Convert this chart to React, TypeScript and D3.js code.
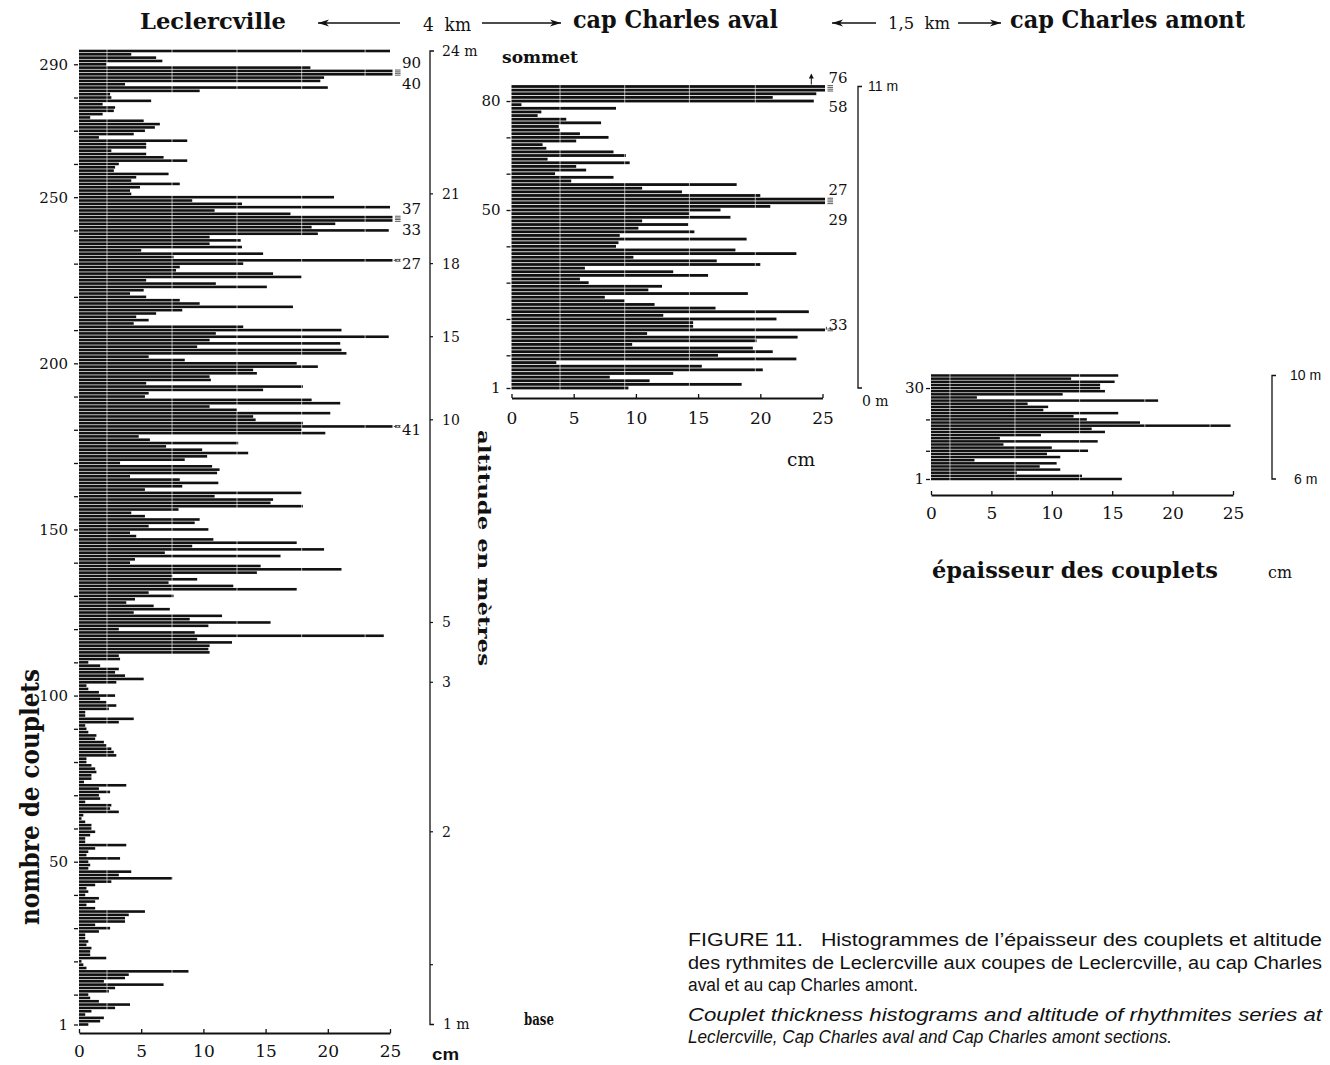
import React, { useEffect, useRef } from 'react';
import * as d3 from 'd3';

// couplet thickness (cm), listed from the top of each section down to couplet 1.
// values above 25 are the off-scale bars, kept at the thickness written beside them.
const leclercville = [
  25, 4.2, 6.2, 6.7, 2.2, 18.6, 90, 40, 19.7, 19.4, 3.7, 20, 9.7, 2.5, 2.6, 5.8, 1.9, 2.9, 2.8, 1.9,
  0.9, 5.2, 6.5, 6.1, 5.3, 4.4, 1.6, 8.7, 5.4, 5.4, 2.6, 5.4, 6.8, 8.7, 3.2, 2.9, 2.8, 7.2, 4.6, 4.2,
  8.1, 4.9, 4.1, 4.2, 20.5,
  9.1, 13.1, 25, 10.9, 17, 37, 33, 20.6, 18.7, 24.9, 19.2, 10.5, 13, 10.5, 13.1, 5, 14.8, 7.6, 27, 13.2,
  8.1, 7.8, 15.6, 17.9, 5.4, 11, 15.1, 5.2, 4.1, 5.4, 8.1, 9.7, 17.2, 8.3, 6.2, 4.6, 5.6, 4.4, 13.2, 21.1,
  11, 24.9, 10.5, 21, 9.5, 21.1, 21.5, 5.6, 8.5, 17.5, 19.2, 14, 14.3, 10.5, 10.6, 5.4, 18, 14.8, 5.6, 5.3,
  18.7, 21, 10.5, 12.7, 20.2, 14, 14.2, 18, 41,
  17.9, 19.8, 4.8, 5.7, 12.8, 7, 9.9, 13.6, 10.3, 8.5, 3.3, 10.7, 11.3, 11.1, 4.1, 8.1, 11.2, 8.3, 5.3, 17.9,
  10.9, 15.6, 15.4, 18, 8, 4.2, 5.3, 9.7, 9.3, 5.6, 10.4, 4.1, 4.6, 10.8, 17.5, 9.1, 19.7, 6.9, 16.2, 4.5,
  4.1, 14.6, 21.1, 14.3, 7.5, 9.5, 7.2, 12.4, 17.5, 5.6, 7.6, 4.5, 3.8, 6, 7.3, 4.4, 11.5, 8.9, 15.4, 10.4,
  3.2, 9.3, 24.5, 9.5, 12.3, 10.5, 10.4, 10.5, 3.2,
  3.3, 0.75, 1.7, 3.2, 2.9, 3.7, 5.2, 3, 0.6, 0.75, 1.6, 2.9, 1.7, 2.2, 3, 2.4, 0.5, 0.5, 4.4, 3.2,
  0.5, 0.6, 0.75, 1.4, 1.3, 2, 2.2, 2.6, 2.8, 3, 0.6, 0.6, 1, 1.3, 1.4, 1, 1, 0.4, 3.8, 1.6,
  2.5, 1.6, 1.7, 0.5, 2.6, 2.5, 3.2, 0.35, 0.2, 0.5, 1, 1, 1.3, 0.9, 0.5, 0.5, 3.8, 1.3, 0.75, 0.6,
  3.3, 0.75, 0.9,
  0.75, 4.2, 3.2, 7.5, 2.6, 1.3, 0.6, 0.75, 0.5, 1.6, 1.3, 0.6, 1.3, 5.3, 4, 3.7, 3.7, 1.3, 2.5, 1.6,
  0.5, 0.5, 0.75, 0.6, 1, 0.9, 0.9, 2.2, 0.2, 0.35, 0.6, 8.8, 4, 3.7, 2, 6.8, 2.9, 2.4, 0.75, 0.9,
  1.6, 4.1, 2.9, 1, 0.5, 2, 1.7, 0.75,
];

const capCharlesAval = [
  76, 58, 24.5, 21, 24.3, 0.8, 8.4, 2.4, 2.1, 4.4, 7.2, 3.8, 3.9, 5.5, 7.8, 5.2, 2.5, 2.8, 8.2, 9.2,
  2.9, 9.5, 5.2, 6, 3.5, 8.2, 4.8, 18.1, 10.5, 13.7, 20, 27, 29, 20.8, 16.8, 14.3, 17.6, 10.5, 14.2, 10.2,
  14.7, 8.7, 18.9, 8.6, 8.4, 18,
  22.9, 9.8, 16.5, 20, 5.9, 13, 15.8, 5.5, 6.2, 12.1, 11, 19, 7.5, 9.1, 11.5, 16.4, 23.9, 12.2, 21.3, 14.6,
  14.6, 33, 10.9, 23, 19.7, 9.7, 19.4, 21, 16.6, 22.9, 3.6, 15.3, 20.2, 13, 7.9, 11.1, 18.5, 9.4,
];

const capCharlesAmont = [
  15.5, 11.6, 15.2, 14, 14, 14.4, 10.9, 3.8, 18.8, 8, 9.7, 9.3, 15.5, 11.8, 12.9, 17.3, 24.8, 13.3, 14.4, 9.1,
  5.7, 13.8, 6, 10, 13, 9.6, 10.7, 3.6, 10.4, 9, 10.7, 7.1, 12.5, 15.8,
];

const thicknessTicks = [0, 5, 10, 15, 20, 25];
const leclercvilleLabels = [1, 50, 100, 150, 200, 250, 290];
const avalLabels = [1, 50, 80];
const amontLabels = [1, 30];

// altitude marks, given as the couplet they stand beside
const leclercvilleAltitude = [
  { label: '24 m', couplet: 294 },
  { label: '21', couplet: 251 },
  { label: '18', couplet: 230 },
  { label: '15', couplet: 208 },
  { label: '10', couplet: 183 },
  { label: '5', couplet: 122 },
  { label: '3', couplet: 104 },
  { label: '2', couplet: 59 },
  { label: '', couplet: 19 },
  { label: '1 m', couplet: 1 },
];
const avalAltitude = [
  { label: '11 m', couplet: 84 },
  { label: '0 m', couplet: 1 },
];
const amontAltitude = [
  { label: '10 m', couplet: 34 },
  { label: '6 m', couplet: 1 },
];

const captionFr = [
  'FIGURE 11.   Histogrammes de l\u2019épaisseur des couplets et altitude',
  'des rythmites de Leclercville aux coupes de Leclercville, au cap Charles',
  'aval et au cap Charles amont.',
];
const captionEn = [
  'Couplet thickness histograms and altitude of rhythmites series at',
  'Leclercville, Cap Charles aval and Cap Charles amont sections.',
];

const ink = '#111';
const serif = '"DejaVu Serif", "Liberation Serif", serif';
const sans = '"Liberation Sans", Arial, sans-serif';

const App = () => {
  const ref = useRef<SVGSVGElement>(null);

  useEffect(() => {
    document.body.style.margin = '0';
    const svg = d3.select(ref.current);
    svg.selectAll('*').remove();
    svg.append('rect').attr('width', 1330).attr('height', 1065).attr('fill', '#fff');

    const drawSection = (s: any) => {
      const n = s.values.length;
      const x = d3.scaleLinear().domain([0, 25]).range(s.xRange);
      const y = d3.scaleLinear().domain([1, n]).range(s.yRange);
      const rows = s.values.map((v: number, i: number) => ({ couplet: n - i, v, i }));
      const g = svg.append('g');

      g.append('g').selectAll('rect').data(rows).join('rect')
        .attr('x', x(0))
        .attr('y', (d: any) => y(d.couplet) - s.barH / 2)
        .attr('width', (d: any) => x(Math.min(d.v, 25.2)) - x(0))
        .attr('height', s.barH)
        .attr('fill', ink);

      // the pasted strips leave thin white seams through the bars
      g.append('g').selectAll('line').data(s.seams).join('line')
        .attr('x1', (d: any) => x(d)).attr('x2', (d: any) => x(d))
        .attr('y1', s.yRange[1] - 2).attr('y2', s.yRange[0] + 2)
        .attr('stroke', '#fff').attr('stroke-width', 0.9).attr('opacity', 0.7);

      // off-scale bars: break mark and written value
      rows.filter((d: any) => d.v > 25).forEach((d: any) => {
        const cy = y(d.couplet);
        [-0.9, 0.9].forEach(o => {
          g.append('line')
            .attr('x1', x(25.4)).attr('x2', x(25.85))
            .attr('y1', cy + o).attr('y2', cy + o)
            .attr('stroke', ink).attr('stroke-width', 0.7);
        });
        const nextOver = d.i < n - 1 && s.values[d.i + 1] > 25;
        const prevOver = d.i > 0 && s.values[d.i - 1] > 25;
        let ty = cy + s.sideDy;
        if (nextOver) ty = cy + s.aboveDy;
        else if (prevOver) ty = cy + s.belowDy;
        else {
          g.append('line')
            .attr('x1', x(25.3)).attr('x2', x(25) + s.noteDx - 2)
            .attr('y1', cy).attr('y2', cy + s.leaderRise)
            .attr('stroke', ink).attr('stroke-width', 0.8)
            .attr('stroke-dasharray', s.leaderDash);
        }
        g.append('text')
          .attr('x', x(25) + s.noteDx).attr('y', ty)
          .attr('font-family', serif).attr('font-size', 15).attr('fill', ink)
          .text(d.v);
      });

      if (s.arrowAt != null) {
        const ax = x(s.arrowAt);
        const ay = y(n) - 2;
        g.append('line').attr('x1', ax).attr('x2', ax).attr('y1', ay).attr('y2', ay - 8)
          .attr('stroke', ink).attr('stroke-width', 1);
        g.append('path').attr('d', `M${ax},${ay - 11} L${ax - 2.5},${ay - 6} L${ax + 2.5},${ay - 6} Z`).attr('fill', ink);
      }

      // thickness axis
      const xa = g.append('g').attr('transform', `translate(0,${s.axisY})`)
        .call(d3.axisBottom(x).tickValues(thicknessTicks).tickSize(-4).tickSizeOuter(0).tickPadding(s.tickPad) as any);
      xa.select('.domain').attr('stroke', ink).attr('stroke-width', 1.8);
      xa.selectAll('.tick line').attr('stroke', ink).attr('stroke-width', 1.3);
      xa.selectAll('.tick text').attr('font-family', serif).attr('font-size', 17).attr('fill', ink);

      // couplet axis
      const yTicks = [1, ...d3.range(10, n + 1, 10)];
      const ya = g.append('g').attr('transform', `translate(${s.xRange[0] - 1},0)`)
        .call(d3.axisLeft(y).tickValues(yTicks).tickSize(4).tickPadding(s.yPad)
          .tickFormat((d: any) => (s.labels.includes(d) ? String(d) : '')) as any);
      ya.select('.domain').remove();
      ya.selectAll('.tick line').attr('stroke', ink).attr('stroke-width', 1.3);
      ya.selectAll('.tick text').attr('font-family', serif).attr('font-size', 15).attr('fill', ink);

      // altitude scale
      const alt = s.altitude;
      const top = y(alt[0].couplet);
      const bottom = y(alt[alt.length - 1].couplet);
      g.append('path')
        .attr('d', `M${s.altX + 4},${top} H${s.altX} V${bottom} H${s.altX + 4}`)
        .attr('fill', 'none').attr('stroke', ink).attr('stroke-width', 1.3);
      alt.forEach((a: any, i: number) => {
        const ay = y(a.couplet);
        if (i > 0 && i < alt.length - 1) {
          g.append('line').attr('x1', s.altX).attr('x2', s.altX + 3).attr('y1', ay).attr('y2', ay)
            .attr('stroke', ink).attr('stroke-width', 1.2);
        }
        const isBottom = i === alt.length - 1;
        g.append('text')
          .attr('x', s.altX + (isBottom ? s.altBottomDx : s.altDx))
          .attr('y', ay + (isBottom ? s.altBottomDy : 0))
          .attr('dy', '0.35em')
          .attr('font-family', a.label.includes('m') && i === 0 ? s.altTopFont : s.altFont)
          .attr('font-size', s.altSize).attr('fill', ink)
          .style('white-space', 'pre')
          .text(a.label);
      });
    };

    drawSection({
      values: leclercville, xRange: [79, 390], yRange: [1024.5, 51], barH: 2.6,
      axisY: 1033, tickPad: 12, labels: leclercvilleLabels, yPad: 6,
      seams: [2.25, 7.48, 12.7, 17.9, 23.0],
      noteDx: 12, aboveDy: -3, belowDy: 15, sideDy: 9, leaderRise: 0, leaderDash: '3,2',
      altitude: leclercvilleAltitude, altX: 430, altDx: 12, altBottomDx: 13, altBottomDy: 0,
      altFont: serif, altTopFont: serif, altSize: 14,
    });
    drawSection({
      values: capCharlesAval, xRange: [511.5, 822.5], yRange: [388, 86.5], barH: 2.8,
      axisY: 398, tickPad: 14, labels: avalLabels, yPad: 6,
      seams: [3.9, 9.1, 14.3, 19.6],
      noteDx: 6, aboveDy: -4, belowDy: 22, sideDy: 0, leaderRise: -3, leaderDash: null,
      arrowAt: 24.1,
      altitude: avalAltitude, altX: 858, altDx: 10, altBottomDx: 4, altBottomDy: 13,
      altFont: serif, altTopFont: sans, altSize: 14,
    });
    drawSection({
      values: capCharlesAmont, xRange: [931, 1233], yRange: [479, 375.5], barH: 2.5,
      axisY: 495, tickPad: 12, labels: amontLabels, yPad: 2,
      seams: [1.57, 6.95, 12.3, 17.7, 23.1],
      noteDx: 6, aboveDy: -4, belowDy: 15, sideDy: 0, leaderRise: 0, leaderDash: null,
      altitude: amontAltitude, altX: 1272, altDx: 18, altBottomDx: 22, altBottomDy: 0,
      altFont: sans, altTopFont: sans, altSize: 14,
    });

    // header
    const text = (x: number, y: number, t: string, size: number, o: any = {}) => {
      const el = svg.append('text').attr('x', x).attr('y', y)
        .attr('font-family', o.family || serif).attr('font-size', size)
        .attr('font-weight', o.bold ? 'bold' : 'normal')
        .attr('font-style', o.italic ? 'italic' : 'normal')
        .attr('fill', ink).style('white-space', 'pre').text(t);
      if (o.len) el.attr('textLength', o.len).attr('lengthAdjust', 'spacingAndGlyphs');
      if (o.anchor) el.attr('text-anchor', o.anchor);
      if (o.rotate != null) el.attr('transform', `rotate(${o.rotate},${x},${y})`);
      return el;
    };
    const arrow = (x1: number, x2: number, yy: number) => {
      svg.append('line').attr('x1', x1).attr('x2', x2).attr('y1', yy).attr('y2', yy)
        .attr('stroke', ink).attr('stroke-width', 1.3);
      const dir = Math.sign(x2 - x1);
      svg.append('path')
        .attr('d', `M${x2},${yy} L${x2 - dir * 11},${yy - 3.5} L${x2 - dir * 8},${yy} L${x2 - dir * 11},${yy + 3.5} Z`)
        .attr('fill', ink);
    };

    text(140, 29, 'Leclercville', 23, { bold: true, len: 146 });
    arrow(400, 318, 23);
    text(423, 31, '4  km', 19, { len: 48 });
    arrow(482, 561, 23);
    text(573, 28, 'cap Charles aval', 24, { bold: true, len: 205 });
    arrow(876, 832, 23);
    text(888, 29, '1,5  km', 16, { len: 62 });
    arrow(958, 1001, 23);
    text(1010, 28, 'cap Charles amont', 24, { bold: true, len: 235 });

    text(502, 63, 'sommet', 16, { bold: true, len: 76 });
    text(524, 1025, 'base', 16, { bold: true, len: 30 });

    text(39, 797, 'nombre de couplets', 26, { bold: true, len: 256, anchor: 'middle', rotate: -90 });
    text(478, 548, 'altitude en mètres', 17, { bold: true, len: 236, anchor: 'middle', rotate: 90 });

    text(432, 1060, 'cm', 17, { bold: true, family: sans, len: 27 });
    text(787, 466, 'cm', 18, { len: 28 });
    text(932, 578, 'épaisseur des couplets', 23, { bold: true, len: 286 });
    text(1268, 578, 'cm', 16, { len: 24 });

    // caption
    const frWidths = [634, 634, 230];
    captionFr.forEach((t, i) => text(688, 946 + i * 22.5, t, 18, { family: sans, len: frWidths[i] }));
    const enWidths = [634, 484];
    captionEn.forEach((t, i) => text(688, 1021 + i * 22, t, 18, { family: sans, italic: true, len: enWidths[i] }));

    return () => {
      svg.selectAll('*').remove();
    };
  }, []);

  return <svg ref={ref} width={1330} height={1065} style={{ display: 'block' }} />;
};

export default App;
